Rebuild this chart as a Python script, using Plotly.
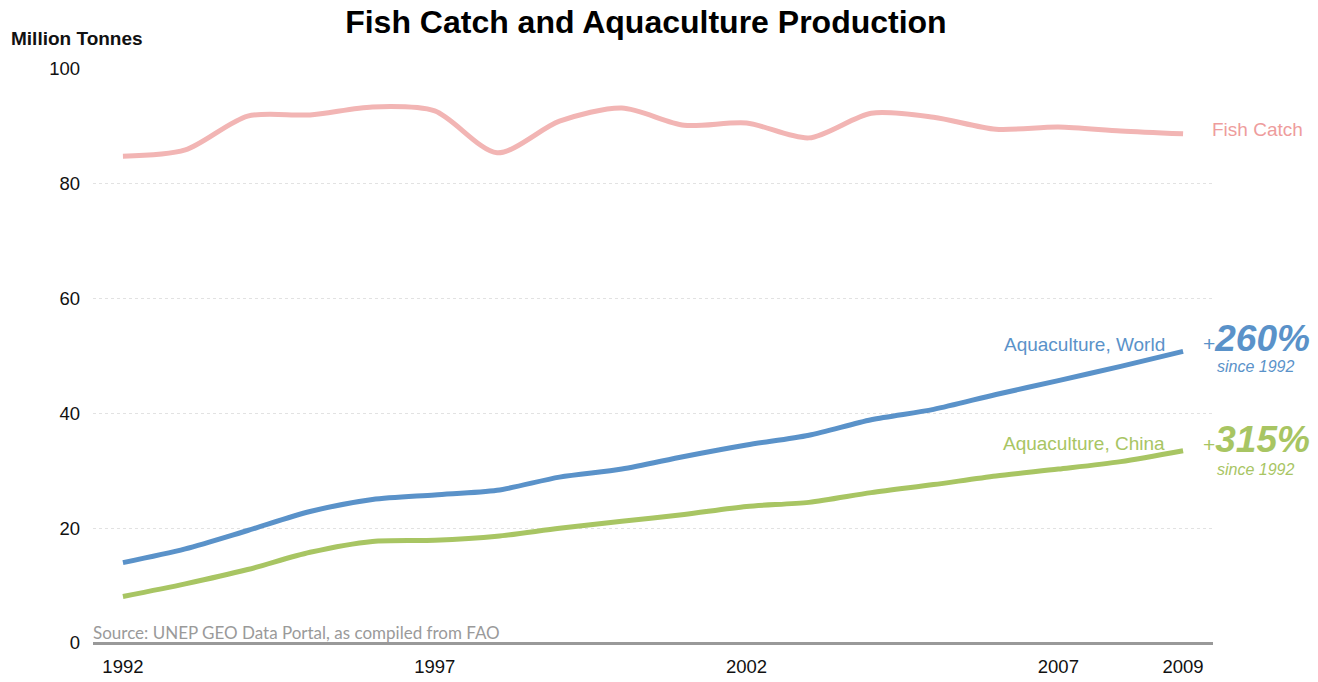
import plotly.graph_objects as go

# values (million tonnes)
YEARS = list(range(1992, 2010))
FISH_CATCH = [84.8, 85.9, 91.8, 92.0, 93.4, 92.7, 85.4, 90.9, 93.2, 90.2,
              90.6, 88.0, 92.3, 91.6, 89.5, 89.9, 89.2, 88.7]
AQUA_WORLD = [14.0, 16.4, 19.6, 22.9, 25.0, 25.8, 26.6, 28.9, 30.3, 32.5,
              34.5, 36.2, 38.9, 40.7, 43.3, 45.7, 48.2, 50.8]
AQUA_CHINA = [8.1, 10.3, 12.8, 15.8, 17.7, 17.9, 18.6, 20.0, 21.2, 22.4,
              23.8, 24.5, 26.2, 27.6, 29.1, 30.3, 31.6, 33.5]
X_TICKS = [1992, 1997, 2002, 2007, 2009]
Y_TICKS = [0, 20, 40, 60, 80, 100]

PINK = "#F2B5B4"
PINK_TXT = "#EE9C9C"
BLUE = "#5A92C9"
GREEN = "#A8C563"
FONT = "Arial, Liberation Sans, sans-serif"

fig = go.Figure()
for vals, col, name in ((FISH_CATCH, PINK, "Fish Catch"),
                        (AQUA_WORLD, BLUE, "Aquaculture, World"),
                        (AQUA_CHINA, GREEN, "Aquaculture, China")):
    fig.add_trace(go.Scatter(x=YEARS, y=vals, name=name, mode="lines",
                             line=dict(color=col, width=5, shape="spline", smoothing=0.8),
                             hoverinfo="x+y"))

# ── labels on the right ──
ann = [
    dict(x=2009.43, y=89.5, text="Fish Catch", xanchor="left", font=dict(color=PINK_TXT, size=19)),
    dict(x=2008.75, y=52.0, text="Aquaculture, World", xanchor="right", font=dict(color=BLUE, size=19)),
    dict(x=2008.75, y=34.8, text="Aquaculture, China", xanchor="right", font=dict(color=GREEN, size=19)),
    dict(x=2009.28, y=53.1, xanchor="left", font=dict(color=BLUE, size=21),
         text="+<span style='font-size:37px'><b><i>260%</i></b></span>"),
    dict(x=2009.28, y=35.4, xanchor="left", font=dict(color=GREEN, size=21),
         text="+<span style='font-size:37px'><b><i>315%</i></b></span>"),
]
for a in ann:
    fig.add_annotation(xref="x", yref="y", showarrow=False, yanchor="middle", **a)

# "since 1992" sits right of the axis range, so it is placed in paper units
for y, col in ((48.2, BLUE), (30.2, GREEN)):
    fig.add_annotation(xref="paper", yref="y", x=1.0375, y=y, xanchor="center",
                       yanchor="middle", showarrow=False, text="<i>since 1992</i>",
                       font=dict(color=col, size=16))

fig.add_annotation(xref="paper", yref="paper", x=-0.075, y=1.054, xanchor="left",
                   yanchor="middle", showarrow=False, text="<b>Million Tonnes</b>",
                   font=dict(size=19, color="#111"))
fig.add_annotation(xref="paper", yref="paper", x=-0.002, y=-0.004, xanchor="left",
                   yanchor="bottom", showarrow=False,
                   text="Source: UNEP GEO Data Portal, as compiled from FAO",
                   font=dict(size=17, color="#9a9a9a", family="Lato, Open Sans, sans-serif"))

# page body keeps an 8px margin, so the margins are shifted by that much
fig.update_layout(
    width=1318, height=682, paper_bgcolor="white", plot_bgcolor="white",
    margin=dict(l=85, r=113, t=61, b=47),
    showlegend=False, font=dict(family=FONT, size=18.5, color="#111"),
    title=dict(text="<b>Fish Catch and Aquaculture Production</b>", x=0.484, y=0.980,
               xanchor="center", yanchor="middle", font=dict(size=32, color="#000")),
)
fig.update_xaxes(range=[1991.52, 2009.48], tickvals=X_TICKS, showgrid=False,
                 zeroline=False, showline=False, ticks="", ticklabelstandoff=10,
                 tickfont=dict(size=18.5))
fig.update_yaxes(range=[0, 100], tickvals=Y_TICKS, showgrid=True, gridcolor="#e2e2e2",
                 griddash="dot", gridwidth=1, zeroline=True, zerolinecolor="#999999",
                 zerolinewidth=3, showline=False, ticks="", ticklabelstandoff=12,
                 tickfont=dict(size=18.5))

fig.write_html("out.html")
